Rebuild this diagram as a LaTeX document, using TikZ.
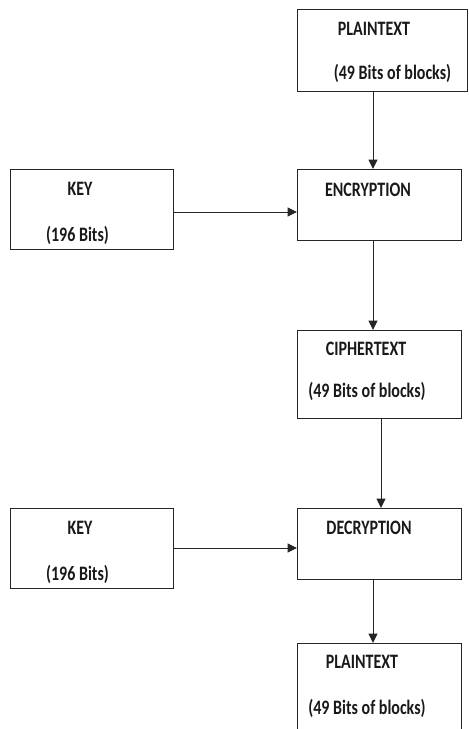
\documentclass[tikz,border=0pt]{standalone}
\usepackage{fontspec}
\newfontfamily\boxfont{Carlito}[FakeStretch=0.78]
\usetikzlibrary{arrows.meta}

\begin{document}
\begin{tikzpicture}[x=1pt, y=-1pt, line width=1pt,
  blk/.style={draw=black!85, rectangle, anchor=north west, inner sep=0pt},
  txt/.style={font=\boxfont\fontsize{20.5}{22}\selectfont\bfseries, inner sep=0pt, text=black!90},
  arr/.style={draw=black!85, -{Triangle[length=9.5pt,width=9pt]}}]
\clip (0,0) rectangle (469,729);
% boxes
\node[blk, minimum width=170pt, minimum height=82pt] (plain1) at (297,9) {};
\node[blk, minimum width=164pt, minimum height=71pt] (enc) at (297,169) {};
\node[blk, minimum width=163pt, minimum height=80pt] (key1) at (10,169) {};
\node[blk, minimum width=164pt, minimum height=88pt] (ciph) at (297,330) {};
\node[blk, minimum width=164pt, minimum height=71pt] (dec) at (297,508) {};
\node[blk, minimum width=163pt, minimum height=80pt] (key2) at (10,508) {};
\node[blk, minimum width=164pt, minimum height=110pt] (plain2) at (297,643) {};
% texts
\node[txt] (plain1a) at (374,28.5) {PLAINTEXT};
\node[txt] (plain1b) at (392.5,73) {(49 Bits of blocks)};
\node[txt] (enca) at (368,190) {ENCRYPTION};
\node[txt] (key1a) at (80,189) {KEY};
\node[txt] (key1b) at (77.5,235) {(196 Bits)};
\node[txt] (cipha) at (366,349) {CIPHERTEXT};
\node[txt] (ciphb) at (367,391) {(49 Bits of blocks)};
\node[txt] (deca) at (369,528) {DECRYPTION};
\node[txt] (key2a) at (80,528) {KEY};
\node[txt] (key2b) at (77.5,574) {(196 Bits)};
\node[txt] (plain2a) at (362,662) {PLAINTEXT};
\node[txt] (plain2b) at (367,708) {(49 Bits of blocks)};
% arrows
\draw[arr] (plain1.south -| 373,0) -- (enc.north -| 373,0);
\draw[arr] (key1.east |- 0,212) -- (enc.west |- 0,212);
\draw[arr] (enc.south -| 373,0) -- (ciph.north -| 373,0);
\draw[arr] (ciph.south -| 381,0) -- (dec.north -| 381,0);
\draw[arr] (key2.east |- 0,548) -- (dec.west |- 0,548);
\draw[arr] (dec.south -| 373,0) -- (plain2.north -| 373,0);
\end{tikzpicture}
\end{document}
